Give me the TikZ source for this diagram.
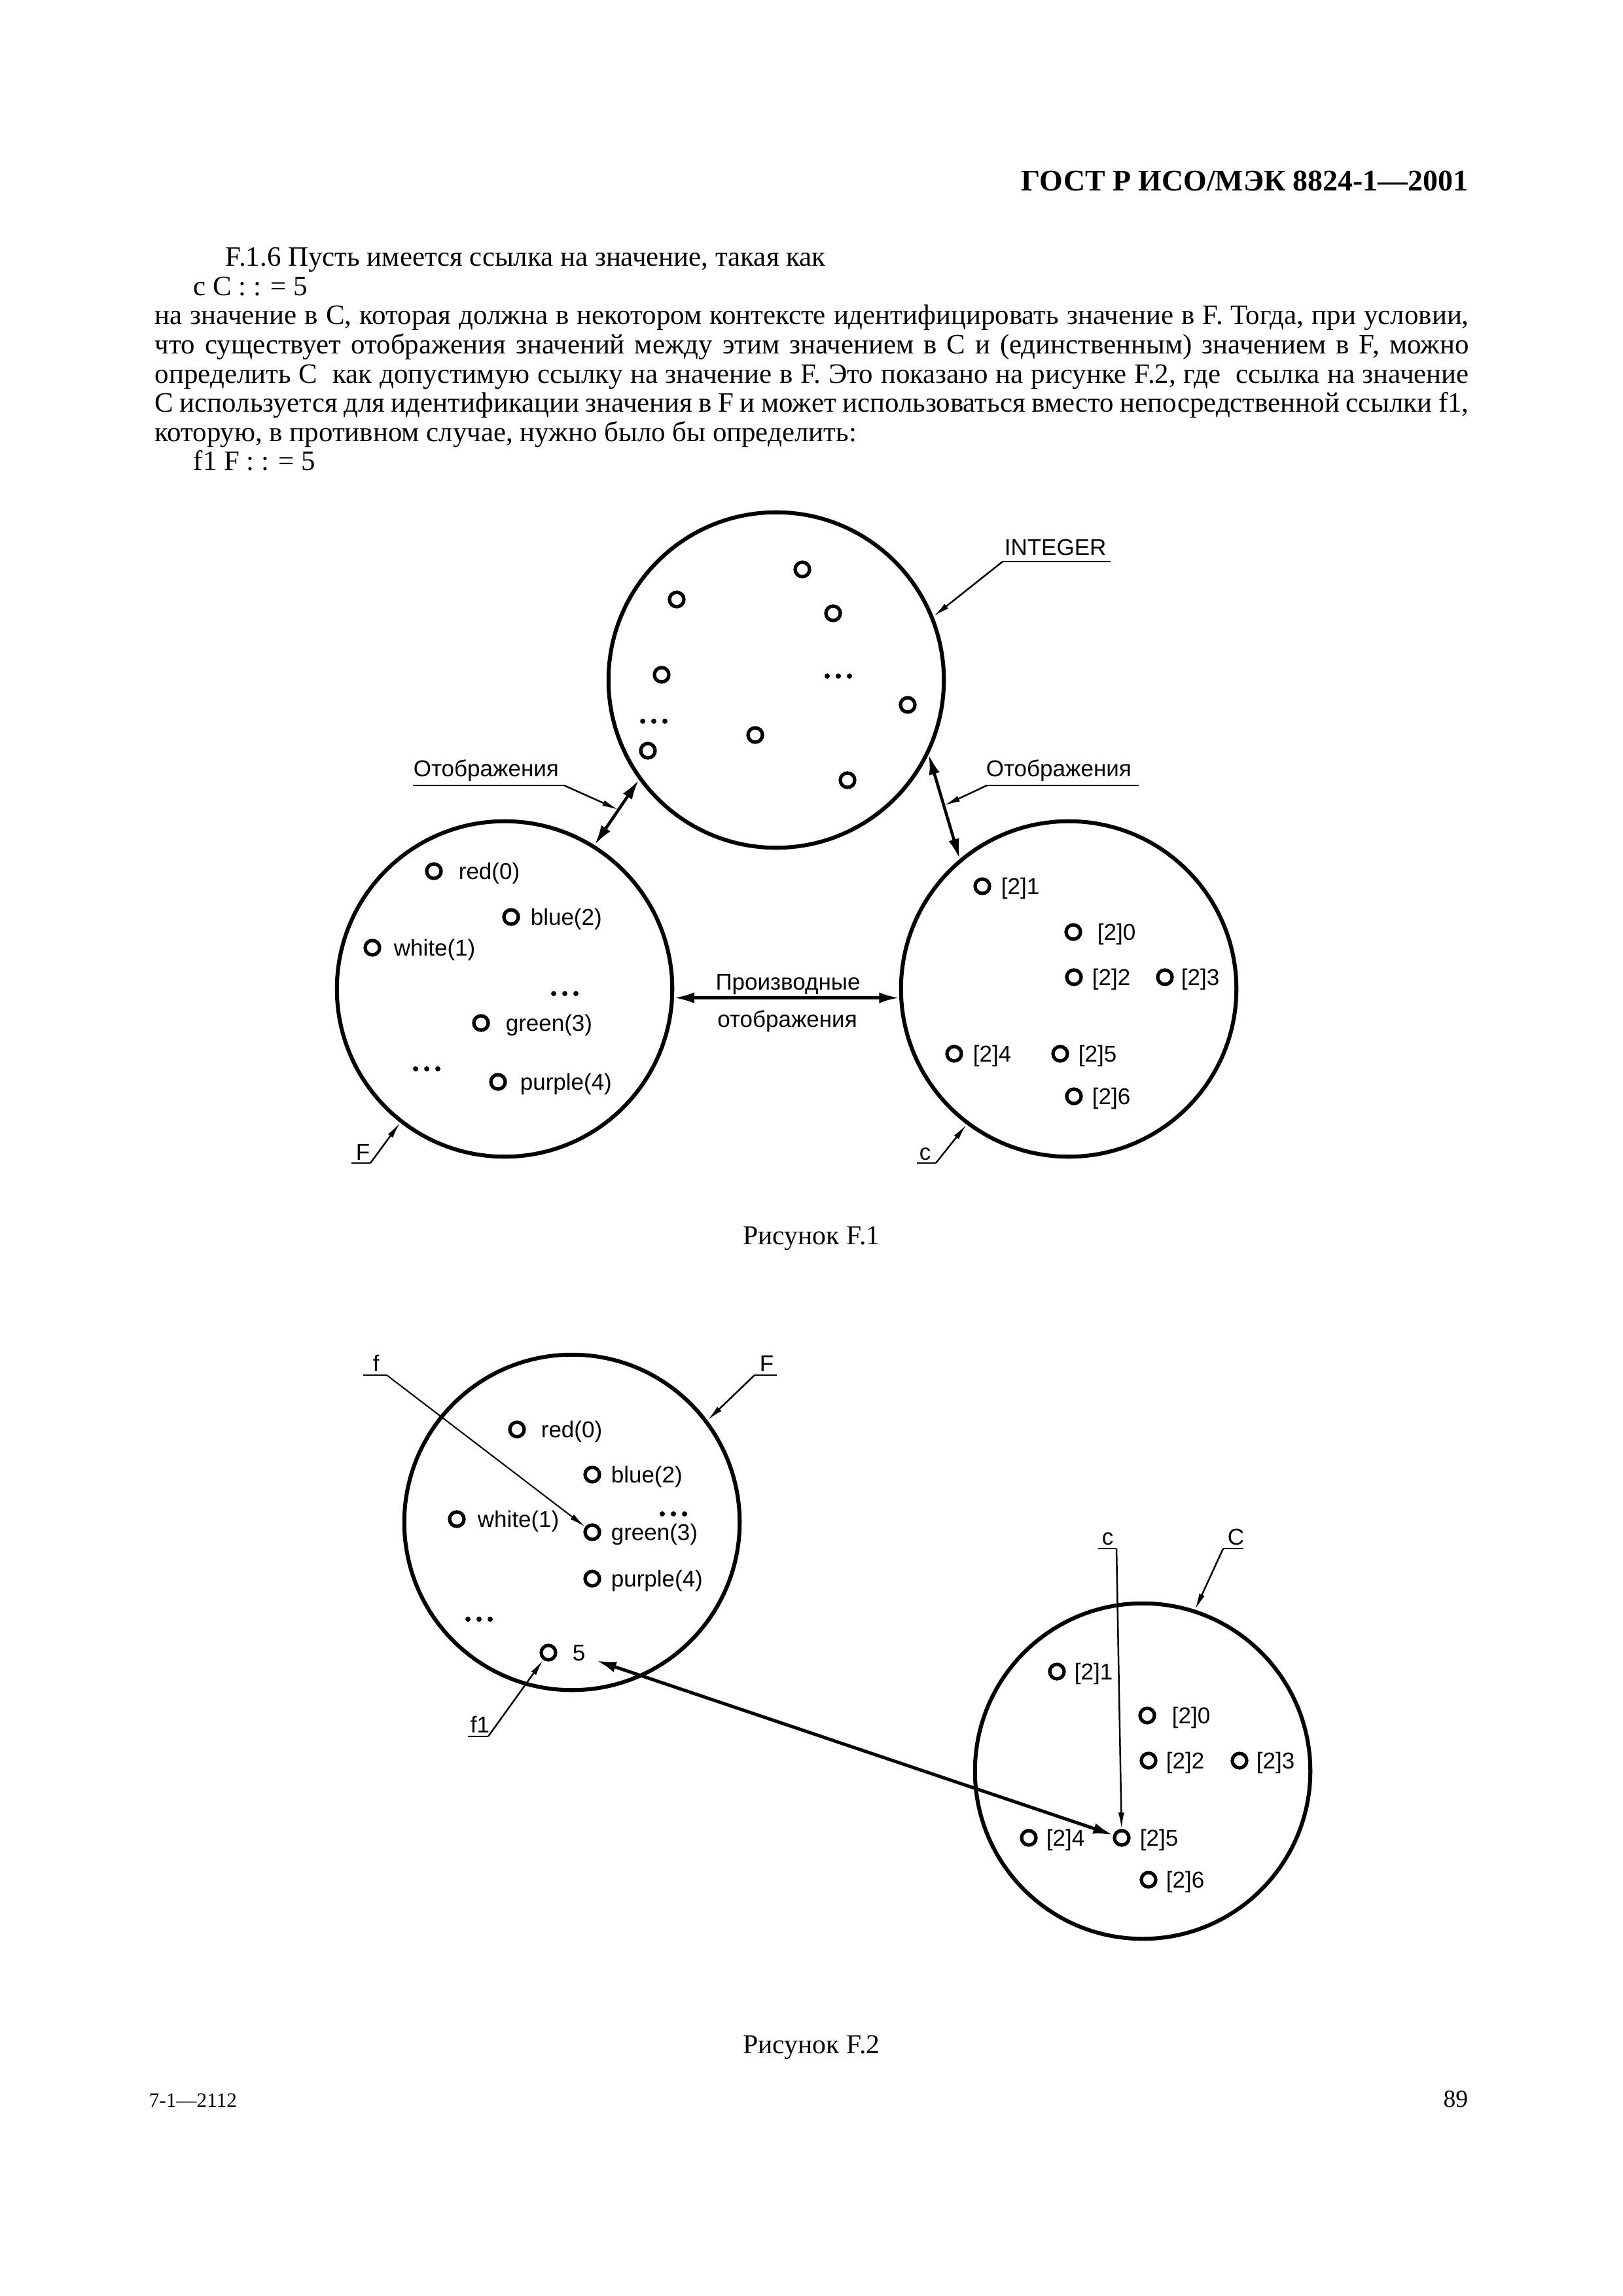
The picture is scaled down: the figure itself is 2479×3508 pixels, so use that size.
\documentclass[tikz,border=0pt]{standalone}
\usepackage{fontspec}
\setmainfont{Liberation Serif}
\newfontfamily\arial{Liberation Sans}
\usetikzlibrary{arrows.meta,calc}
\newcommand\tdots[2]{\foreach \dx in {-17,0,17}{\fill (#1+\dx,#2) circle[radius=0.95pt];}}
\begin{document}
\begin{tikzpicture}[x=0.24pt,y=-0.24pt,
  bigc/.style={circle, draw, line width=1.45pt, minimum size=123pt, inner sep=0pt},
  val/.style={circle, draw, line width=1.25pt, minimum size=5.3pt, inner sep=0pt},
  lab/.style={font=\arial\fontsize{8.4}{10}\selectfont, inner sep=0pt, anchor=base west},
  clab/.style={font=\arial\fontsize{8.4}{10}\selectfont, inner sep=0pt, anchor=base},
  lead/.style={line width=0.6pt, -{Latex[length=6pt,width=2.2pt]}},
  uline/.style={line width=0.7pt},
  dbl/.style={line width=1.1pt, {Latex[length=7.4pt,width=4pt]}-{Latex[length=7.4pt,width=4pt]}},
  body/.style={font=\fontsize{10.3}{12}\selectfont, inner sep=0pt, anchor=base west},
  hdr/.style={font=\bfseries\fontsize{11}{13}\selectfont, inner sep=0pt, anchor=base east},
  capt/.style={font=\fontsize{10}{12}\selectfont, inner sep=0pt, anchor=base}]
\fill[white] (0,0) rectangle (2479,3508);
\useasboundingbox (0,0) rectangle (2479,3508);

% ---------------- header and text ----------------
\node[hdr] (hdr) at (2244,292) {ГОСТ Р ИСО/МЭК 8824-1—2001};
\node[body] (t1) at (344,407) {F.1.6 Пусть имеется ссылка на значение, такая как};
\node[body] (t2) at (295,451.6) {c C : : = 5};
\node[body] (t3) at (236,496) {\makebox[481.9pt][s]{на значение в С, которая должна в некотором контексте идентифицировать значение в F. Тогда, при условии,}};
\node[body] (t4) at (236,540.7) {\makebox[481.9pt][s]{что существует отображения значений между этим значением в С и (единственным) значением в F, можно}};
\node[body] (t5) at (236,585.3) {\makebox[481.9pt][s]{определить С\ \ как допустимую ссылку на значение в F. Это показано на рисунке F.2, где\ \ ссылка на значение}};
\node[body] (t6) at (236,630) {\makebox[481.9pt][s]{С используется для идентификации значения в F и может использоваться вместо непосредственной ссылки f1,}};
\node[body] (t7) at (236,674.4) {которую, в противном случае, нужно было бы определить:};
\node[body] (t8) at (295,719) {f1 F : : = 5};

% ---------------- Figure F.1 ----------------
\node[bigc] (I) at (1186,1039) {};
\node[bigc] (Fa) at (771,1511) {};
\node[bigc] (Ca) at (1633,1511) {};

% INTEGER values
\node[val] (i1) at (1226,870) {};
\node[val] (i2) at (1034,916) {};
\node[val] (i3) at (1273,937) {};
\node[val] (i4) at (1011,1031) {};
\node[val] (i5) at (1387,1077) {};
\node[val] (i6) at (1154,1123) {};
\node[val] (i7) at (990,1147) {};
\node[val] (i8) at (1295,1192) {};
\tdots{1281}{1033}
\tdots{999}{1102}

% F values
\node[val] (fa0) at (663,1331) {};  \node[lab] (fa0l) at (700,1343) {red(0)};
\node[val] (fa2) at (781,1401) {};  \node[lab] (fa2l) at (810,1413) {blue(2)};
\node[val] (fa1) at (569,1448) {};  \node[lab] (fa1l) at (601,1460) {white(1)};
\node[val] (fa3) at (735,1563) {};  \node[lab] (fa3l) at (772,1575) {green(3)};
\node[val] (fa4) at (761,1653) {};  \node[lab] (fa4l) at (794,1665) {purple(4)};
\tdots{863}{1518}
\tdots{652}{1633}

% C values
\node[val] (ca1) at (1501,1354) {}; \node[lab] (ca1l) at (1529,1366) {[2]1};
\node[val] (ca0) at (1640,1424) {}; \node[lab] (ca0l) at (1676,1436) {[2]0};
\node[val] (ca2) at (1641,1493) {}; \node[lab] (ca2l) at (1668,1505) {[2]2};
\node[val] (ca3) at (1780,1493) {}; \node[lab] (ca3l) at (1804,1505) {[2]3};
\node[val] (ca4) at (1458,1610) {}; \node[lab] (ca4l) at (1486,1622) {[2]4};
\node[val] (ca5) at (1620,1610) {}; \node[lab] (ca5l) at (1647,1622) {[2]5};
\node[val] (ca6) at (1641,1675) {}; \node[lab] (ca6l) at (1668,1687) {[2]6};

% mappings
\draw[dbl] (I.216.7) -- (Fa.58.4);
\draw[dbl] (I.-26.8) -- (Ca.130.4);
\draw[dbl] (Fa.-3.1) -- (Ca.183.1);
\node[clab] (pr1) at (1204,1512) {Производные};
\node[clab] (pr2) at (1203,1569) {отображения};

% INTEGER label
\node[lab] (intl) at (1534,849) {INTEGER};
\coordinate (iu1) at (1532,858); \coordinate (iu2) at (1697,858);
\draw[uline] (iu1) -- (iu2);
\draw[lead] (iu1) -- (I.22.9);

% left mapping label
\node[lab] (oml) at (631,1186) {Отображения};
\coordinate (ol1) at (631,1200); \coordinate (ol2) at (862,1200);
\draw[uline] (ol1) -- (ol2);
\draw[lead] (ol2) -- ($(I.216.7)!0.46!(Fa.58.4)$);

% right mapping label
\node[lab] (omr) at (1506,1186) {Отображения};
\coordinate (or1) at (1508,1200); \coordinate (or2) at (1740,1200);
\draw[uline] (or1) -- (or2);
\draw[lead] (or1) -- ($(I.-26.8)!0.49!(Ca.130.4)$);

% F label
\node[lab] (Fal) at (543,1772) {F};
\coordinate (fu1) at (537,1777); \coordinate (fu2) at (566,1777);
\draw[uline] (fu1) -- (fu2);
\draw[lead] (fu2) -- (Fa.232.4);

% c label
\node[lab] (Cal) at (1404,1772) {c};
\coordinate (cu1) at (1401,1777); \coordinate (cu2) at (1430,1777);
\draw[uline] (cu1) -- (cu2);
\draw[lead] (cu2) -- (Ca.233);

\node[capt] (cap1) at (1240,1901) {Рисунок F.1};

% ---------------- Figure F.2 ----------------
\node[bigc] (Fb) at (874,2326) {};
\node[bigc] (Cb) at (1746,2706) {};

\node[val] (fb0) at (790,2184) {};  \node[lab] (fb0l) at (826,2196) {red(0)};
\node[val] (fb2) at (905,2253) {};  \node[lab] (fb2l) at (933,2265) {blue(2)};
\node[val] (fb1) at (698,2321) {};  \node[lab] (fb1l) at (729,2333) {white(1)};
\node[val] (fb3) at (905,2341) {};  \node[lab] (fb3l) at (933,2353) {green(3)};
\node[val] (fb4) at (905,2412) {};  \node[lab] (fb4l) at (933,2424) {purple(4)};
\node[val] (fb5) at (838,2525) {};  \node[lab] (fb5l) at (874,2537) {5};
\tdots{1029}{2313}
\tdots{732}{2474}

\node[val] (cb1) at (1615,2554) {}; \node[lab] (cb1l) at (1641,2566) {[2]1};
\node[val] (cb0) at (1753,2621) {}; \node[lab] (cb0l) at (1790,2633) {[2]0};
\node[val] (cb2) at (1755,2690) {}; \node[lab] (cb2l) at (1781,2702) {[2]2};
\node[val] (cb3) at (1894,2690) {}; \node[lab] (cb3l) at (1919,2702) {[2]3};
\node[val] (cb4) at (1572,2808) {}; \node[lab] (cb4l) at (1598,2820) {[2]4};
\node[val] (cb5) at (1714,2808) {}; \node[lab] (cb5l) at (1741,2820) {[2]5};
\node[val] (cb6) at (1755,2872) {}; \node[lab] (cb6l) at (1781,2884) {[2]6};

% big derived mapping arrow
\coordinate (a5) at (911,2537);
\draw[dbl, line width=1.2pt] (a5) -- (cb5);

% f label
\node[lab] (fl) at (569,2095) {f};
\coordinate (fbu1) at (555,2101); \coordinate (fbu2) at (591,2101);
\draw[uline] (fbu1) -- (fbu2);
\draw[lead, line width=0.5pt] (fbu2) -- (fb3);

% F label
\node[lab] (Fbl) at (1160,2095) {F};
\coordinate (Fbu1) at (1153,2101); \coordinate (Fbu2) at (1187,2101);
\draw[uline] (Fbu1) -- (Fbu2);
\draw[lead] (Fbu1) -- (Fb.37);

% f1 label
\node[lab] (f1l) at (718,2647) {f1};
\coordinate (f1u1) at (715,2653); \coordinate (f1u2) at (746,2653);
\draw[uline] (f1u1) -- (f1u2);
\draw[lead] (f1u2) -- (fb5);

% c label
\node[lab] (cbl) at (1683,2360) {c};
\coordinate (cbu1) at (1678,2366); \coordinate (cbu2) at (1706,2366);
\draw[uline] (cbu1) -- (cbu2);
\draw[lead] (cbu2) -- (cb5);

% C label
\node[lab] (Cbl) at (1875,2360) {C};
\coordinate (Cbu1) at (1869,2366); \coordinate (Cbu2) at (1900,2366);
\draw[uline] (Cbu1) -- (Cbu2);
\draw[lead] (Cbu1) -- (Cb.72.3);

\node[capt] (cap2) at (1240,3137) {Рисунок F.2};

% ---------------- footer ----------------
\node[font=\fontsize{7.5}{9}\selectfont, inner sep=0pt, anchor=base west] (ft1) at (227,3219) {7-1—2112};
\node[font=\fontsize{9}{11}\selectfont, inner sep=0pt, anchor=base east] (ft2) at (2244,3219) {89};
\end{tikzpicture}
\end{document}
